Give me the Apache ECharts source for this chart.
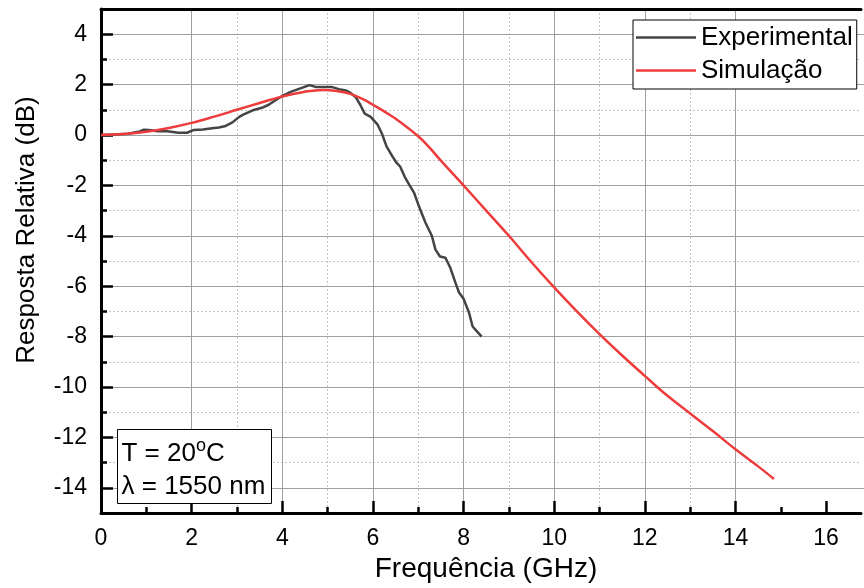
<!DOCTYPE html>
<html><head><meta charset="utf-8">
<script src="https://cdn.jsdelivr.net/npm/echarts@6/dist/echarts.min.js"></script>
<style>html,body{margin:0;padding:0;background:#fff}#c{width:864px;height:588px}</style>
</head><body><div id="c"></div>
<script>
// ---- data ----
const expFreq = [0,0.3,0.6,0.85,0.95,1.05,1.25,1.4,1.55,1.7,1.9,2.05,2.25,2.45,2.6,2.75,2.9,3.05,3.15,3.35,3.55,3.7,3.85,4.0,4.2,4.4,4.6,4.75,4.9,5.1,5.25,5.4,5.5,5.62,5.72,5.82,5.95,6.1,6.2,6.3,6.43,6.52,6.6,6.7,6.8,6.91,7.02,7.16,7.3,7.38,7.48,7.6,7.71,7.82,7.9,8.0,8.12,8.2,8.3,8.4];
const expDb   = [0,0.02,0.05,0.14,0.21,0.2,0.15,0.16,0.13,0.09,0.09,0.2,0.22,0.27,0.3,0.36,0.5,0.72,0.82,0.98,1.08,1.2,1.38,1.55,1.72,1.85,1.98,1.9,1.9,1.9,1.82,1.77,1.68,1.5,1.2,0.85,0.72,0.42,0.05,-0.45,-0.85,-1.1,-1.25,-1.65,-1.97,-2.3,-2.85,-3.48,-4.0,-4.55,-4.82,-4.87,-5.28,-5.86,-6.25,-6.5,-7.05,-7.6,-7.8,-8.0];
const simFreq = [0,0.5,1.0,1.5,2.0,2.5,3.0,3.5,4.0,4.5,4.9,5.2,5.5,5.8,6.0,6.3,6.6,7.0,7.25,7.5,8.0,8.5,9.0,9.5,10.0,10.5,11.0,11.5,12.0,12.5,13.0,13.5,14.0,14.5,14.85];
const simDb   = [0,0.04,0.13,0.28,0.48,0.73,1.0,1.27,1.53,1.72,1.79,1.75,1.63,1.4,1.2,0.88,0.52,-0.05,-0.5,-1.02,-2.0,-3.0,-4.0,-5.05,-6.05,-7.0,-7.9,-8.75,-9.56,-10.35,-11.05,-11.75,-12.47,-13.15,-13.65];
const seriesNames = ['Experimental', 'Simulação'];
const xMajorTicks = [0,2,4,6,8,10,12,14,16];
const xMinorTicks = [1,3,5,7,9,11,13,15];
const xName = 'Frequência (GHz)';
const yName = 'Resposta Relativa (dB)';
const noteLines = ['T = 20', 'o', 'C', 'λ = 1550 nm'];

const X_MIN = 0, X_MAX = 16.77, Y_MIN = -15, Y_MAX = 5;
const Y_MAJ_MIN = -14, Y_MAJ_MAX = 4;
const FONT = "'Liberation Sans', Arial, sans-serif";
const zip = (a, b) => a.map((v, i) => [v, b[i]]);
const isEven = v => Math.abs(v % 2) < 1e-9;

// plot box
const G_LEFT = 101, G_TOP = 9, G_BOTTOM = 75, H = 588;
const unitY = (H - G_TOP - G_BOTTOM) / (Y_MAX - Y_MIN);

const chart = echarts.init(document.getElementById('c'), null, {renderer: 'canvas'});
chart.setOption({
  animation: false,
  backgroundColor: '#fff',
  grid: [
    {left: G_LEFT, top: G_TOP, right: 0, bottom: G_BOTTOM, containLabel: false},
    // same box, trimmed to the even (major) y-range
    {left: G_LEFT, top: G_TOP + (Y_MAX - Y_MAJ_MAX) * unitY, right: 0,
     bottom: G_BOTTOM + (Y_MAJ_MIN - Y_MIN) * unitY, containLabel: false}
  ],
  xAxis: [
    { // minor grid + minor ticks
      gridIndex: 0, type: 'value', min: X_MIN, max: X_MAX, interval: 1, position: 'bottom',
      axisLine: {show: false, onZero: false},
      axisTick: {show: true, inside: true, length: 6, customValues: xMinorTicks, lineStyle: {color: '#000', width: 2.5}},
      axisLabel: {show: false},
      splitLine: {show: true, showMinLine: false, showMaxLine: false, lineStyle: {color: '#c4c4c4', type: [2, 2], width: 1}}
    },
    { // major axis with labels
      gridIndex: 0, type: 'value', min: X_MIN, max: X_MAX, interval: 2, position: 'bottom',
      name: xName, nameLocation: 'middle', nameGap: 40,
      nameTextStyle: {fontFamily: FONT, fontSize: 28, color: '#000', padding: [0, 0, 0, 10]},
      axisLine: {show: true, onZero: false, lineStyle: {color: '#000', width: 3}},
      axisTick: {show: true, inside: true, length: 12, customValues: xMajorTicks, lineStyle: {color: '#000', width: 2.5}},
      axisLabel: {show: true, margin: 14, fontFamily: FONT, fontSize: 23, color: '#000',
        formatter: v => isEven(v) ? String(v) : ''},
      splitLine: {show: true, showMinLine: false, showMaxLine: false, lineStyle: {color: '#a0a0a0', type: 'solid', width: 1}}
    },
    { // top border
      gridIndex: 0, type: 'value', min: X_MIN, max: X_MAX, position: 'top',
      axisLine: {show: true, onZero: false, lineStyle: {color: '#000', width: 3}},
      axisTick: {show: false}, axisLabel: {show: false}, splitLine: {show: false}
    },
    { // helper x axis of the major-grid box
      gridIndex: 1, type: 'value', min: X_MIN, max: X_MAX, show: false,
      axisLine: {onZero: false}
    }
  ],
  yAxis: [
    { // odd values: dotted grid + short ticks + axis line
      gridIndex: 0, type: 'value', min: Y_MIN, max: Y_MAX, interval: 2, position: 'left',
      axisLine: {show: true, onZero: false, lineStyle: {color: '#000', width: 3}},
      axisTick: {show: true, inside: true, length: 6, lineStyle: {color: '#000', width: 2.5}},
      axisLabel: {show: false},
      splitLine: {show: true, showMinLine: false, showMaxLine: false, lineStyle: {color: '#c4c4c4', type: [2, 2], width: 1}}
    },
    { // even values: solid grid + long ticks + labels
      gridIndex: 1, type: 'value', min: Y_MAJ_MIN, max: Y_MAJ_MAX, interval: 2, position: 'left',
      name: yName, nameLocation: 'middle', nameGap: 61, nameRotate: 90,
      nameTextStyle: {fontFamily: FONT, fontSize: 26, color: '#000', padding: [0, 0, 0, 62]},
      axisLine: {show: false, onZero: false},
      axisTick: {show: true, inside: true, length: 12, lineStyle: {color: '#000', width: 2.5}},
      axisLabel: {show: true, margin: 14, fontFamily: FONT, fontSize: 23, color: '#000'},
      splitLine: {show: true, lineStyle: {color: '#a0a0a0', type: 'solid', width: 1}}
    }
  ],
  legend: {
    show: true, orient: 'vertical', left: 633, top: 20, z: 50,
    data: seriesNames,
    icon: 'rect', itemWidth: 60, itemHeight: 2.5, itemGap: 2,
    padding: [2, 4, 3, 3],
    backgroundColor: '#fff', borderColor: '#000', borderWidth: 1, borderRadius: 0,
    textStyle: {fontFamily: FONT, fontSize: 26, color: '#000', lineHeight: 31}
  },
  graphic: [{
    type: 'group', left: 117, top: 429, z: 100,
    children: [
      {type: 'rect', z: 100, shape: {x: 0, y: 0, width: 154, height: 74}, style: {fill: '#fff', stroke: '#000', lineWidth: 1}},
      {type: 'text', z: 101, x: 4, y: 8, style: {
        text: '{a|' + noteLines[0] + '}{s|' + noteLines[1] + '}{a|' + noteLines[2] + '}\n{a|' + noteLines[3] + '}',
        rich: {
          a: {fontFamily: FONT, fontSize: 26, lineHeight: 33, fill: '#000'},
          s: {fontFamily: FONT, fontSize: 18, lineHeight: 16, verticalAlign: 'top', fill: '#000'}
        }
      }}
    ]
  }],
  series: [
    {name: seriesNames[0], type: 'line', xAxisIndex: 1, yAxisIndex: 0, data: zip(expFreq, expDb),
      symbol: 'none', showSymbol: false, lineStyle: {color: '#444', width: 2.5}, itemStyle: {color: '#444'}, z: 3},
    {name: seriesNames[1], type: 'line', xAxisIndex: 1, yAxisIndex: 0, data: zip(simFreq, simDb),
      symbol: 'none', showSymbol: false, smooth: 0.4, lineStyle: {color: '#ee3b3b', width: 2.5}, itemStyle: {color: '#ee3b3b'}, z: 4}
  ]
});
</script></body></html>
